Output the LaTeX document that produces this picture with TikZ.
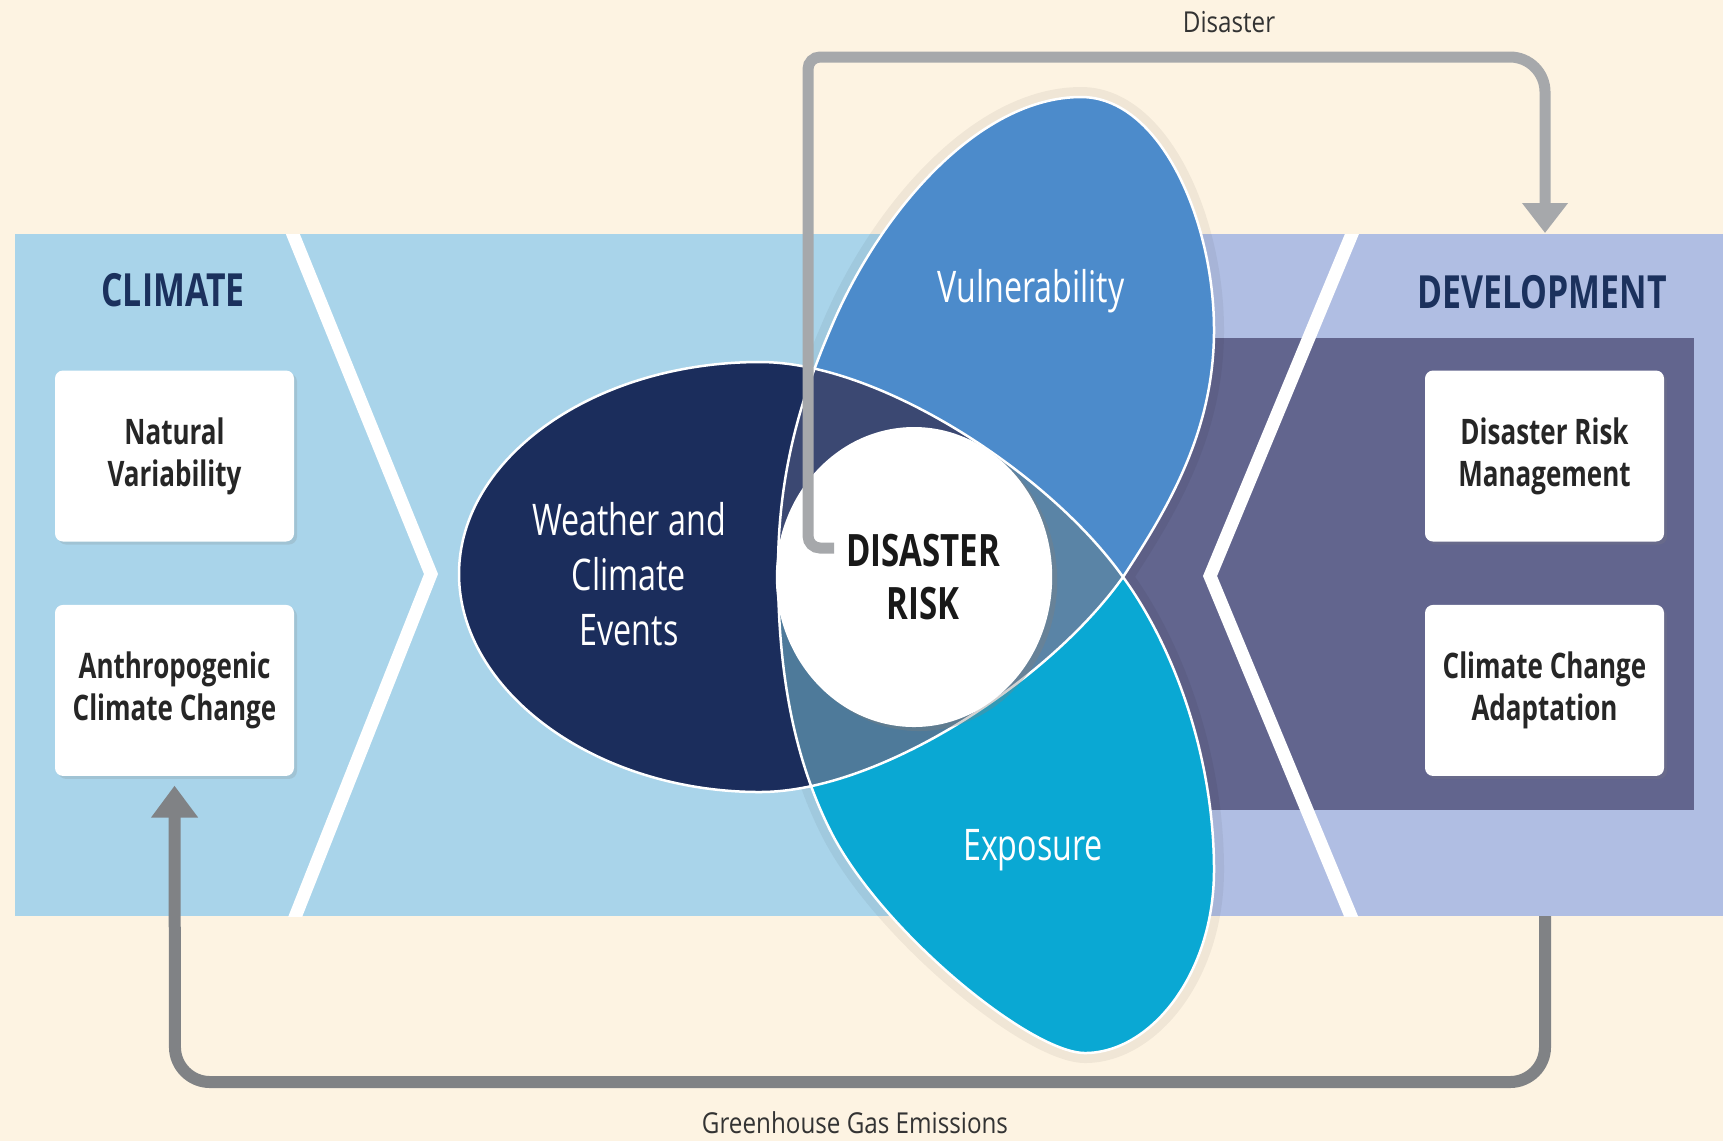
\documentclass[tikz,border=0pt]{standalone}
\usepackage{fontspec}
\setmainfont{Open Sans}
\newfontfamily\narrowfont{Open Sans}[FakeStretch=0.74]
\newfontfamily\labelfont{Open Sans}[FakeStretch=0.84]
\usepackage{xcolor}
\usetikzlibrary{shapes,arrows.meta,positioning,shadows}
\definecolor{cream}{RGB}{253,243,226}
\definecolor{skyband}{RGB}{169,212,234}
\definecolor{lavband}{RGB}{176,190,227}
\definecolor{slateband}{RGB}{98,101,142}
\definecolor{navy}{RGB}{27,45,92}
\definecolor{vulblue}{RGB}{76,139,203}
\definecolor{expcyan}{RGB}{10,168,211}
\definecolor{ovtop}{RGB}{59,72,114}
\definecolor{ovbot}{RGB}{78,122,154}
\definecolor{ovmid}{RGB}{90,132,166}
\definecolor{titlenavy}{RGB}{27,49,93}
\definecolor{greyarrow}{RGB}{166,168,171}
\definecolor{darkarrow}{RGB}{128,130,133}
\tikzstyle{box} = [rectangle, fill=white, rounded corners=0.8mm, minimum width=23.9mm, minimum height=17.1mm, align=center, text=black!85, font=\narrowfont\bfseries\fontsize{10}{12}\selectfont, drop shadow={shadow xshift=0.3mm, shadow yshift=-0.3mm, opacity=0.2}]
\tikzstyle{title} = [text=titlenavy, font=\narrowfont\bfseries\fontsize{13}{15}\selectfont]
\tikzstyle{lobe} = [text=white, align=center, font=\narrowfont\fontsize{12.4}{15.6}\selectfont]
\tikzstyle{flow} = [text=black!80, font=\labelfont\fontsize{8.2}{10}\selectfont]
\tikzstyle{risk} = [ellipse, fill=white, minimum width=27.4mm, minimum height=30mm, align=center, text=black!90, font=\narrowfont\bfseries\fontsize{12.7}{15}\selectfont, drop shadow={shadow xshift=0.5mm, shadow yshift=-0.4mm, opacity=0.35}]
\tikzstyle{outline} = [draw=white, line width=0.25mm]
\tikzstyle{chevron} = [draw=white, line width=1.3mm, line join=miter]
\tikzstyle{line} = [draw=greyarrow, line width=1.1mm, rounded corners=3.5mm, -{Triangle[width=4.4mm,length=3mm]}]
\newcommand{\weatherpath}{(1123,577) .. controls (1050,680) and (880,792) .. (760,792) .. controls (594,792) and (459,690) .. (459,574) .. controls (459,458) and (594,362) .. (760,362) .. controls (880,362) and (1050,474) .. (1123,577) -- cycle}
\newcommand{\riskpath}{(1081,97) .. controls (1160,97) and (1214,220) .. (1214,330) .. controls (1214,430) and (1170,505) .. (1123,577) .. controls (1176,650) and (1214,760) .. (1214,870) .. controls (1214,975) and (1150,1053) .. (1085,1053) .. controls (1030,1053) and (880,930) .. (830,830) .. controls (790,750) and (778,660) .. (778,570) .. controls (778,475) and (800,400) .. (830,330) .. controls (880,210) and (980,97) .. (1081,97) -- cycle}
\begin{document}
\begin{tikzpicture}[x=0.1mm, y=-0.1mm]
    \useasboundingbox (0,0) rectangle (1723,1141);
    \fill[cream] (0,0) rectangle (1723,1141);
    % band behind the diagram
    \fill[skyband] (15,234) rectangle (1200,916);
    \fill[lavband] (1190,234) rectangle (1723,916);
    \fill[slateband] (1100,338) rectangle (1694,810);
    \begin{scope}
        \clip (15,234) rectangle (1723,916);
        \draw[chevron] (279,200) -- (431,574) -- (282,950);
        \draw[chevron] (1366,200) -- (1210,576) -- (1365,950);
    \end{scope}

    % the three lobes
    \draw[line width=2mm, black, opacity=0.05] \riskpath;
    \begin{scope}
        \clip \riskpath;
        \fill[vulblue] (700,0) rectangle (1300,577);
        \fill[expcyan] (700,577) rectangle (1300,1141);
    \end{scope}
    \fill[navy] \weatherpath;
    \begin{scope}
        \clip \weatherpath;
        \clip \riskpath;
        \fill[ovmid] (700,300) rectangle (1200,850);
        \fill[ovtop] (700,250) -- (1043,250) -- (914,577) -- (700,577) -- cycle;
        \fill[ovbot] (700,900) -- (1050,900) -- (914,577) -- (700,577) -- cycle;
    \end{scope}
    \path[outline] \weatherpath;
    \path[outline] \riskpath;

    \node [risk] (risk) at (914,577) {\hspace*{1.8mm}DISASTER\\\hspace*{1.8mm}RISK};
    \node [lobe] (weather) at (629,574) {Weather and\\Climate\\Events};
    \node [lobe] (vuln) at (1031,291) {Vulnerability};
    \node [lobe] (expo) at (1033,850) {Exposure};

    \node [title] (climate) at (173,290) {CLIMATE};
    \node [title] (develop) at (1542,292) {DEVELOPMENT};
    \node [box] (natural) at (174.5,456) {Natural\\Variability};
    \node [box, below=6.2mm of natural] (anthro) {Anthropogenic\\Climate Change};
    \node [box] (drm) at (1544.5,456) {Disaster Risk\\Management};
    \node [box, below=6.2mm of drm] (cca) {Climate Change\\Adaptation};

    \node [flow] (disasterlbl) at (1229,22) {Disaster};
    \node [flow] (ghglbl) at (855,1123) {Greenhouse Gas Emissions};

    \coordinate (riskout) at (834,548);
    \coordinate (topleft) at (808,57);
    \coordinate (devtop) at (1545,233);
    \coordinate (devbot) at (1545,916);
    \coordinate (botleft) at (175,1082);

    \path [line] (riskout) [rounded corners=1.2mm] -| (topleft) [rounded corners=3.5mm] -| (devtop);
    \path [line, draw=darkarrow, line width=1.2mm, -{Triangle[width=4.5mm,length=3.2mm]}, shorten >=0.9mm] (devbot) |- (botleft) -- (anthro.south);
\end{tikzpicture}
\end{document}
